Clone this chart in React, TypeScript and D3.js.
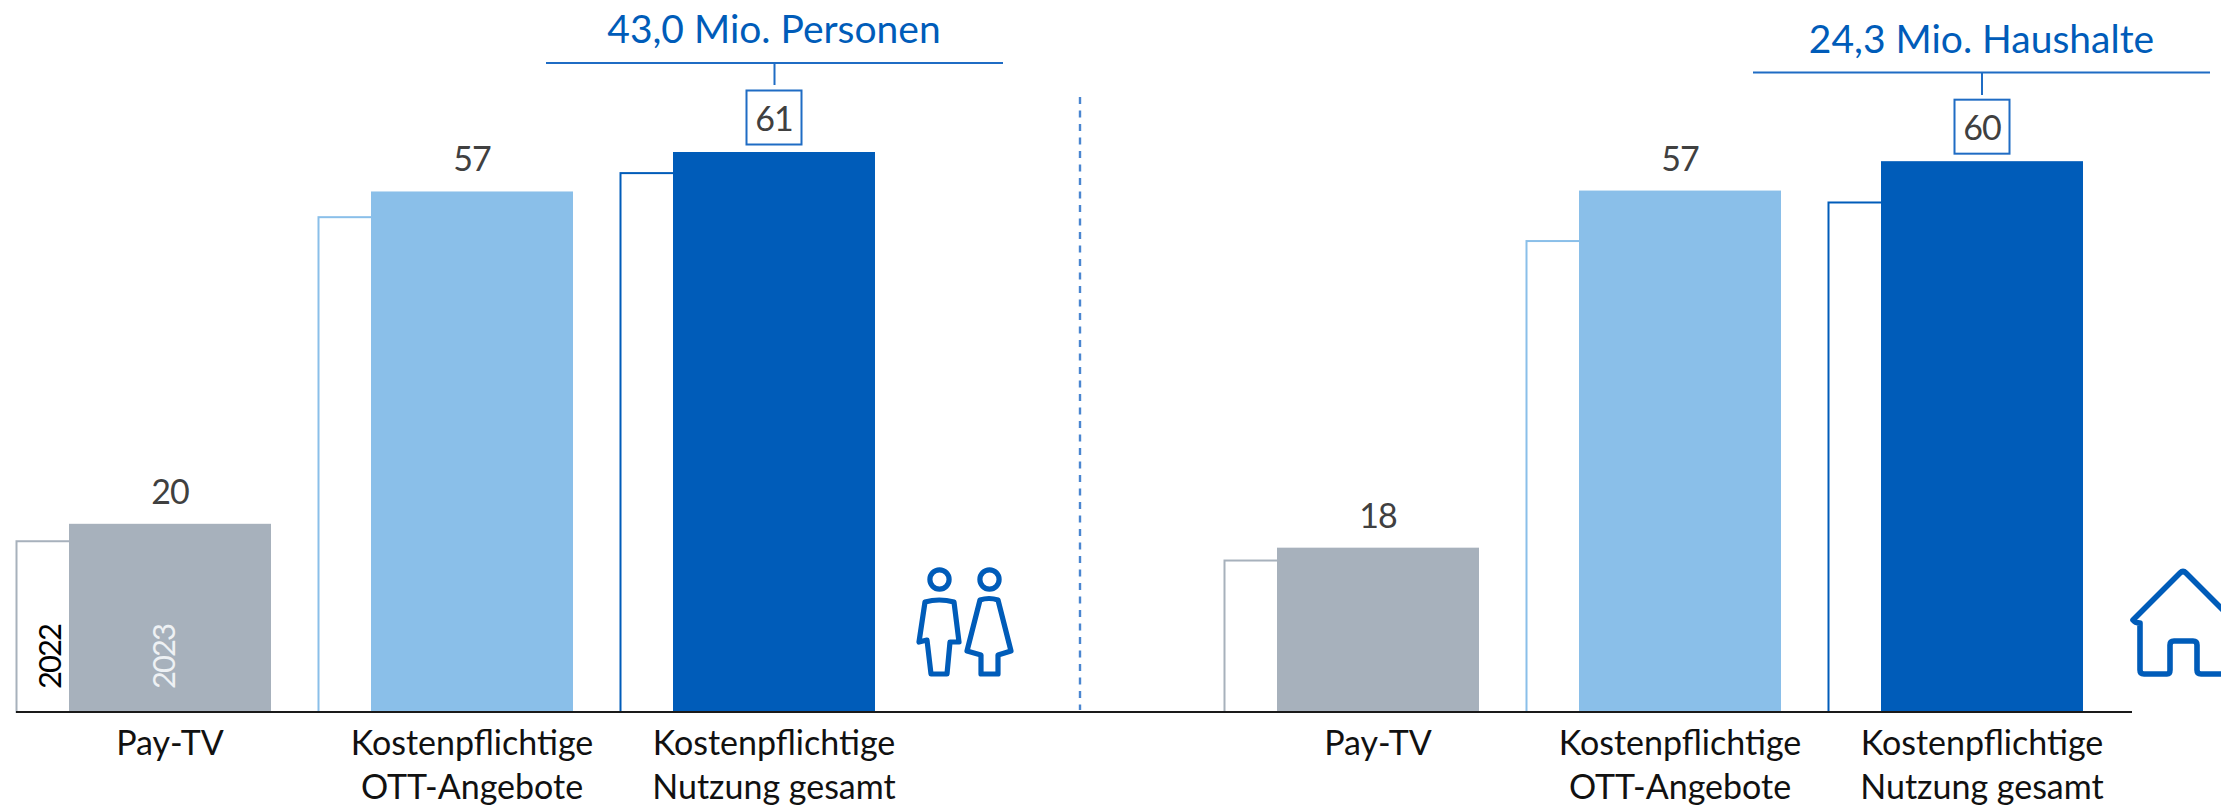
import React from "react";
import * as d3 from "d3";

const W = 2221, H = 806;
const groupSlots = [0, 1, 2, 4, 5, 6];
const categoryLines = [
  ["Pay-TV"],
  ["Kostenpflichtige", "OTT-Angebote"],
  ["Kostenpflichtige", "Nutzung gesamt"],
  ["Pay-TV"],
  ["Kostenpflichtige", "OTT-Angebote"],
  ["Kostenpflichtige", "Nutzung gesamt"],
];
const values2022 = [18.6, 53.9, 58.7, 16.5, 51.3, 55.5];
const values2023 = [20.5, 56.7, 61, 17.9, 56.8, 60];
const valueLabels = ["20", "57", "61", "18", "57", "60"];
const fills = ["#a7b1bc", "#8abfe9", "#005cb9", "#a7b1bc", "#8abfe9", "#005cb9"];
const boxed = [false, false, true, false, false, true];
const headers = ["43,0 Mio. Personen", "24,3 Mio. Haushalte"];

const FONT = "Lato, Carlito, Calibri, sans-serif";
const BLUE = "#005cb9";
const LINE = "#1f6cc4";
const TEXT = "#404040";

const x = d3.scaleLinear().domain([0, 6]).range([170, 1982]);
const y = d3.scaleLinear().domain([0, 61]).range([712, 152]);
const BAR = 202;
const OFFSET = 52.5;

function Persons() {
  const man = "M925,602 Q939,598 954,602 L959,642 L950,642 L947,674 L931,674 L927,640 L919,642 Z";
  const woman = "M980,600 Q989,597 998,600 L1011,651 L998,655 L998,674 L981,674 L981,655 L967,651 Z";
  return (
    <g fill="none" stroke={BLUE} strokeWidth={5.2} strokeLinejoin="round">
      <circle cx={939.5} cy={579.5} r={9.6} />
      <circle cx={989.5} cy={579.5} r={9.6} />
      <path d={man} />
      <path d={woman} />
    </g>
  );
}

function House() {
  const d = "M2180,573 Q2183,570 2186,573 L2233,620 M2133,620 L2180,573 M2133,620 Q2135,623 2140,623 L2140,670 Q2140,674 2144,674 L2167,674 Q2170,674 2170,670 L2170,645 Q2170,641 2174,641 L2193,641 Q2197,641 2197,645 L2197,670 Q2197,674 2201,674 L2226,674";
  return <path d={d} fill="none" stroke={BLUE} strokeWidth={5.6} strokeLinejoin="round" strokeLinecap="round" />;
}

export default function App() {
  return (
    <svg width={W} height={H} viewBox={`0 0 ${W} ${H}`} style={{ position: "absolute", left: 0, top: 0, display: "block", background: "#fff" }} fontFamily={FONT}>
      {groupSlots.map((s, i) => {
        const cx = x(s);
        const left = cx - BAR / 2;
        const y22 = y(values2022[i]);
        const y23 = y(values2023[i]);
        return (
          <g key={i}>
            <rect x={left - OFFSET} y={y22} width={BAR} height={y(0) - y22} fill="#fff" stroke={fills[i]} strokeWidth={2} />
            <rect x={left} y={y23} width={BAR} height={y(0) - y23} fill={fills[i]} />
            {boxed[i] ? (
              <rect x={cx - 27.5} y={y23 - 61.5} width={55} height={54} fill="#fff" stroke={LINE} strokeWidth={2} />
            ) : null}
            <text x={cx} y={boxed[i] ? y23 - 21.5 : y23 - 20} textAnchor="middle" fontSize={34} letterSpacing={-1} fill={TEXT}>{valueLabels[i]}</text>
            {categoryLines[i].map((line, k) => (
              <text key={k} x={cx} y={755 + k * 44} textAnchor="middle" fontSize={34} fill="#111">{line}</text>
            ))}
          </g>
        );
      })}

      <line x1={16} x2={2132} y1={y(0)} y2={y(0)} stroke="#1a1a1a" strokeWidth={2} />

      <text transform="translate(61,689) rotate(-90)" fontSize={31} letterSpacing={-2} fill="#000">2022</text>
      <text transform="translate(175,689) rotate(-90)" fontSize={31} letterSpacing={-2} fill="#eef1f4">2023</text>

      <line x1={1080} x2={1080} y1={97} y2={710} stroke="#4a86d0" strokeWidth={2.4} strokeDasharray="7 6.5" />

      <text x={774} y={43} textAnchor="middle" fontSize={39} fill={BLUE}>{headers[0]}</text>
      <line x1={546} x2={1003} y1={63} y2={63} stroke={LINE} strokeWidth={2} />
      <line x1={774.5} x2={774.5} y1={63} y2={85} stroke={LINE} strokeWidth={2} />

      <text x={1981.5} y={53} textAnchor="middle" fontSize={39} fill={BLUE}>{headers[1]}</text>
      <line x1={1753} x2={2210} y1={72.5} y2={72.5} stroke={LINE} strokeWidth={2} />
      <line x1={1982} x2={1982} y1={72.5} y2={95} stroke={LINE} strokeWidth={2} />

      <Persons />
      <House />
    </svg>
  );
}
